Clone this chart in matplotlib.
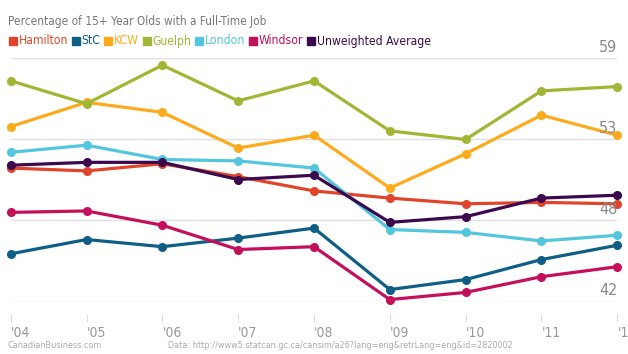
import matplotlib
matplotlib.use("Agg")
import matplotlib.pyplot as plt
from matplotlib.patches import Rectangle

plt.rcParams['font.family'] = ['DejaVu Sans']
plt.rcParams['font.stretch'] = 'condensed'

years = [2004, 2005, 2006, 2007, 2008, 2009, 2010, 2011, 2012]
year_labels = ["'04", "'05", "'06", "'07", "'08", "'09", "'10", "'11", "'12"]

hamilton = [51.3, 51.1, 51.6, 50.7, 49.7, 49.2, 48.8, 48.9, 48.8]
stc = [45.3, 46.3, 45.8, 46.4, 47.1, 42.8, 43.5, 44.9, 45.9]
kcw = [54.2, 55.9, 55.2, 52.7, 53.6, 49.9, 52.3, 55.0, 53.6]
guelph = [57.4, 55.8, 58.5, 56.0, 57.4, 53.9, 53.3, 56.7, 57.0]
london = [52.4, 52.9, 51.9, 51.8, 51.3, 47.0, 46.8, 46.2, 46.6]
windsor = [48.2, 48.3, 47.3, 45.6, 45.8, 42.1, 42.6, 43.7, 44.4]
average = [51.5, 51.7, 51.7, 50.5, 50.8, 47.5, 47.9, 49.2, 49.4]

series = [
    ("Hamilton", hamilton, "#e0452b"),
    ("StC", stc, "#0f5e85"),
    ("KCW", kcw, "#fdab1c"),
    ("Guelph", guelph, "#a2b535"),
    ("London", london, "#52c6dd"),
    ("Windsor", windsor, "#c4105a"),
    ("Unweighted Average", average, "#3b0a4e"),
]

# axis runs 42..59, split in three, labels rounded
ytick_vals = [42, 42 + 17 / 3, 42 + 34 / 3, 59]
ytick_labels = ["42", "48", "53", "59"]

fig = plt.figure(figsize=(6.28, 3.54), dpi=100)
ax = fig.add_axes([10.7 / 628, 53 / 354, 606.6 / 628, 243 / 354])

for name, vals, col in series:
    ax.plot(years, vals, color=col, lw=2.3, marker="o", ms=5.5, clip_on=False)

ax.set_xlim(2004, 2012)
ax.set_ylim(42, 59)
ax.set_yticks(ytick_vals)
ax.set_yticklabels([])
ax.yaxis.grid(True, color="#e0e0e0", lw=1)
ax.set_axisbelow(True)
ax.tick_params(axis="y", length=0)
for s in ax.spines.values():
    s.set_visible(False)
ax.spines["bottom"].set_position(("outward", 9))

ax.set_xticks(years)
ax.set_xticklabels(year_labels)
ax.tick_params(axis="x", length=6, color="#dddddd", labelcolor="#999999",
               labelsize=10, pad=3)
for lab in ax.get_xticklabels():
    lab.set_ha("left")

for v, lab in zip(ytick_vals, ytick_labels):
    ax.annotate(lab, xy=(1, v), xycoords=("axes fraction", "data"),
                xytext=(0, 2), textcoords="offset points",
                ha="right", va="bottom", color="#888888", fontsize=11.5)

fig.text(8 / 628, 1 - 22 / 354, "Percentage of 15+ Year Olds with a Full-Time Job",
         color="#777777", fontsize=8.5, va="center", ha="left")

# legend row, built left to right
fig.canvas.draw()
renderer = fig.canvas.get_renderer()
xpos = 9
ycen = 41
for name, vals, col in series:
    fig.patches.append(Rectangle((xpos / 628, 1 - (ycen + 4) / 354), 8 / 628, 8 / 354,
                                 transform=fig.transFigure, color=col))
    t = fig.text((xpos + 9.5) / 628, 1 - ycen / 354, name, color=col,
                 fontsize=8.7, va="center", ha="left")
    bb = t.get_window_extent(renderer)
    xpos = bb.x1 + 4

fig.text(8 / 628, 1 - 346 / 354, "CanadianBusiness.com", color="#aaaaaa",
         fontsize=6.5, va="center", ha="left")
fig.text(513 / 628, 1 - 346 / 354,
         "Data: http://www5.statcan.gc.ca/cansim/a26?lang=eng&retrLang=eng&id=2820002",
         color="#aaaaaa", fontsize=6.5, va="center", ha="right")

fig.savefig("out.png", dpi=100)
